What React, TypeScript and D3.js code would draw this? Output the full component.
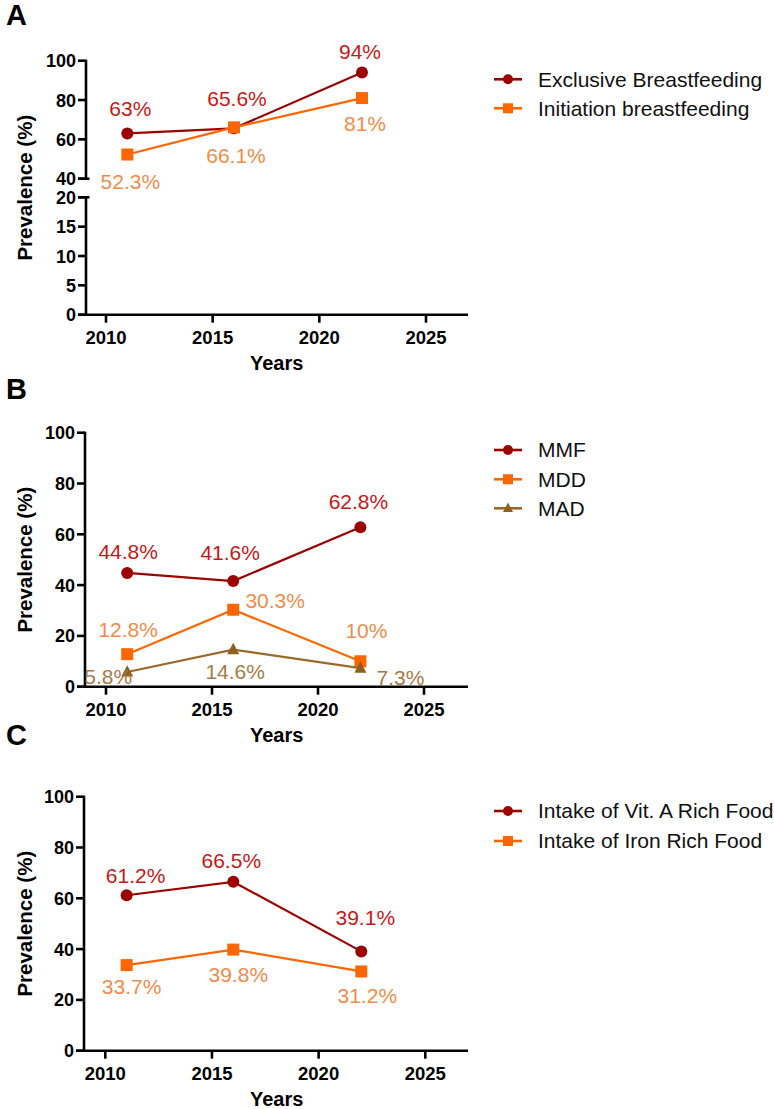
import React from "react";
import * as d3 from "d3";

// ---------- DATA ----------
const years = [2011, 2016, 2022];
const xTicks = [2010, 2015, 2020, 2025];

const exclusiveBF = [63, 65.6, 94];
const initiationBF = [52.3, 66.1, 81];

const mmf = [44.8, 41.6, 62.8];
const mdd = [12.8, 30.3, 10];
const mad = [5.8, 14.6, 7.3];

const vitA = [61.2, 66.5, 39.1];
const iron = [33.7, 39.8, 31.2];

const yTicksATop = [40, 60, 80, 100];
const yTicksABottom = [0, 5, 10, 15, 20];
const yTicksFull = [0, 20, 40, 60, 80, 100];

// ---------- STYLE ----------
const FONT = "'Liberation Sans', Arial, Helvetica, sans-serif";
const RED = "#9c0000";
const RED_LABEL = "#cc1616";
const ORANGE = "#ff6600";
const ORANGE_LABEL = "#f28b48";
const BROWN = "#9a6a2a";
const BROWN_MARK = "#8f5f1e";
const BROWN_LABEL = "#a87a45";

type Shape = "circle" | "square" | "triangle";

interface Series {
  name: string;
  values: number[];
  line: string;
  mark: string;
  label: string;
  shape: Shape;
  offsets: [number, number][]; // label centre offset from point
}

function Marker({ shape, x, y, color, size }: { shape: Shape; x: number; y: number; color: string; size: number }) {
  if (shape === "circle") return <circle cx={x} cy={y} r={size / 2} fill={color} />;
  if (shape === "square") return <rect x={x - size / 2} y={y - size / 2} width={size} height={size} fill={color} />;
  const h = size * 0.95;
  return (
    <polygon
      points={`${x},${y - h * 0.6} ${x - size / 2},${y + h * 0.4} ${x + size / 2},${y + h * 0.4}`}
      fill={color}
    />
  );
}

interface PanelProps {
  letter: string;
  letterY: number;
  axisX: number;
  x0: number; // pixel of 2010
  x1: number; // pixel of 2025
  axisY: number;
  yOf: (v: number) => number;
  yTop: number;
  broken?: { topEnd: number; bottomStart: number };
  yTickList: { v: number; y: number }[];
  series: Series[];
  legendY: number[];
}

function Panel(p: PanelProps) {
  const x = d3.scaleLinear().domain([2010, 2025]).range([p.x0, p.x1]);
  const xRightEnd = 468;
  const line = d3
    .line<[number, number]>()
    .x((d) => x(d[0]))
    .y((d) => p.yOf(d[1]));
  const axisW = 2.6;
  const tickLen = 8;
  const yCenter = (p.yTop + p.axisY) / 2;

  return (
    <g>
      <text x={6} y={p.letterY} fontFamily={FONT} fontWeight="bold" fontSize={29} fill="#000">
        {p.letter}
      </text>

      {/* y axis */}
      {p.broken ? (
        <g stroke="#000" strokeWidth={axisW}>
          <line x1={p.axisX} x2={p.axisX} y1={p.yTop - 1} y2={p.broken.topEnd} />
          <line x1={p.axisX - tickLen} x2={p.axisX + 3.5} y1={p.broken.topEnd} y2={p.broken.topEnd} />
          <line x1={p.axisX} x2={p.axisX} y1={p.broken.bottomStart} y2={p.axisY} />
          <line x1={p.axisX - tickLen} x2={p.axisX + 3.5} y1={p.broken.bottomStart} y2={p.broken.bottomStart} />
        </g>
      ) : (
        <line x1={p.axisX} x2={p.axisX} y1={p.yTop - 1} y2={p.axisY} stroke="#000" strokeWidth={axisW} />
      )}
      {p.yTickList.map((t) => (
        <g key={"yt" + t.v}>
          <line x1={p.axisX - tickLen} x2={p.axisX} y1={t.y} y2={t.y} stroke="#000" strokeWidth={axisW} />
          <text
            x={p.axisX - 10}
            y={t.y + 6.5}
            textAnchor="end"
            fontFamily={FONT}
            fontWeight="bold"
            fontSize={18}
            fill="#000"
          >
            {t.v}
          </text>
        </g>
      ))}

      {/* x axis */}
      <line x1={p.axisX - tickLen} x2={xRightEnd} y1={p.axisY} y2={p.axisY} stroke="#000" strokeWidth={axisW} />
      {xTicks.map((t) => (
        <g key={"xt" + t}>
          <line x1={x(t)} x2={x(t)} y1={p.axisY} y2={p.axisY + tickLen} stroke="#000" strokeWidth={axisW} />
          <text
            x={x(t)}
            y={p.axisY + 29}
            textAnchor="middle"
            fontFamily={FONT}
            fontWeight="bold"
            fontSize={18.5}
            fill="#000"
          >
            {t}
          </text>
        </g>
      ))}
      <text
        x={276.7}
        y={p.axisY + 55.5}
        textAnchor="middle"
        fontFamily={FONT}
        fontWeight="bold"
        fontSize={20}
        fill="#000"
      >
        Years
      </text>
      <text
        transform={`translate(32,${yCenter}) rotate(-90)`}
        textAnchor="middle"
        fontFamily={FONT}
        fontWeight="bold"
        fontSize={20.5}
        fill="#000"
      >
        Prevalence (%)
      </text>

      {/* series */}
      {p.series.map((s) => {
        const pts: [number, number][] = years.map((yr, i) => [yr, s.values[i]]);
        return (
          <g key={s.name}>
            <path d={line(pts) || ""} fill="none" stroke={s.line} strokeWidth={2.2} />
            {pts.map((d, i) => (
              <Marker key={i} shape={s.shape} x={x(d[0])} y={p.yOf(d[1])} color={s.mark} size={12} />
            ))}
          </g>
        );
      })}
      {p.series.map((s) => (
        <g key={s.name + "lab"}>
          {years.map((yr, i) => (
            <text
              key={i}
              x={x(yr) + s.offsets[i][0]}
              y={p.yOf(s.values[i]) + s.offsets[i][1] + 7.3}
              textAnchor="middle"
              fontFamily={FONT}
              fontSize={21}
              fill={s.label}
            >
              {s.values[i] + "%"}
            </text>
          ))}
        </g>
      ))}

      {/* legend */}
      {p.series.map((s, i) => (
        <g key={s.name + "leg"}>
          <line x1={494} x2={522} y1={p.legendY[i]} y2={p.legendY[i]} stroke={s.line} strokeWidth={2.6} />
          <Marker shape={s.shape} x={508} y={p.legendY[i]} color={s.mark} size={10} />
          <text x={538} y={p.legendY[i] + 7.3} fontFamily={FONT} fontSize={21} fill="#111">
            {s.name}
          </text>
        </g>
      ))}
    </g>
  );
}

export default function App() {
  // Panel A: broken y axis
  const yATop = d3.scaleLinear().domain([40, 100]).range([178.7, 60.7]);
  const yABottom = d3.scaleLinear().domain([0, 20]).range([314.7, 197.3]);
  const yA = (v: number) => (v >= 30 ? yATop(v) : yABottom(v));
  const yB = d3.scaleLinear().domain([0, 100]).range([686.7, 432.7]);
  const yC = d3.scaleLinear().domain([0, 100]).range([1050.7, 796.7]);

  const seriesA: Series[] = [
    {
      name: "Exclusive Breastfeeding",
      values: exclusiveBF,
      line: RED,
      mark: RED,
      label: RED_LABEL,
      shape: "circle",
      offsets: [[3, -25], [3, -30], [-2, -21]],
    },
    {
      name: "Initiation breastfeeding",
      values: initiationBF,
      line: ORANGE,
      mark: ORANGE,
      label: ORANGE_LABEL,
      shape: "square",
      offsets: [[3, 27], [2, 28], [3, 26]],
    },
  ];
  const seriesB: Series[] = [
    {
      name: "MMF",
      values: mmf,
      line: RED,
      mark: RED,
      label: RED_LABEL,
      shape: "circle",
      offsets: [[1, -21], [-3, -28], [-2, -25]],
    },
    {
      name: "MDD",
      values: mdd,
      line: ORANGE,
      mark: ORANGE,
      label: ORANGE_LABEL,
      shape: "square",
      offsets: [[1, -24], [42, -9], [6, -31]],
    },
    {
      name: "MAD",
      values: mad,
      line: BROWN,
      mark: BROWN_MARK,
      label: BROWN_LABEL,
      shape: "triangle",
      offsets: [[-19, 5], [2, 22], [40, 10]],
    },
  ];
  const seriesC: Series[] = [
    {
      name: "Intake of Vit. A Rich Food",
      values: vitA,
      line: RED,
      mark: RED,
      label: RED_LABEL,
      shape: "circle",
      offsets: [[9, -20], [-2, -21], [4, -34]],
    },
    {
      name: "Intake of Iron Rich Food",
      values: iron,
      line: ORANGE,
      mark: ORANGE,
      label: ORANGE_LABEL,
      shape: "square",
      offsets: [[5, 22], [5, 25], [6, 24]],
    },
  ];

  return (
    <svg
      width={774}
      height={1109}
      style={{ position: "absolute", left: 0, top: 0, background: "#fff" }}
    >
      <rect width={774} height={1109} fill="#fff" />
      <Panel
        letter="A"
        letterY={25}
        axisX={86}
        x0={106}
        x1={426}
        axisY={314.7}
        yOf={yA}
        yTop={60.7}
        broken={{ topEnd: 178.7, bottomStart: 197.3 }}
        yTickList={[
          ...yTicksATop.map((v) => ({ v, y: yATop(v) })),
          ...yTicksABottom.map((v) => ({ v, y: yABottom(v) })),
        ]}
        series={seriesA}
        legendY={[79.3, 108.3]}
      />
      <Panel
        letter="B"
        letterY={399}
        axisX={85}
        x0={106}
        x1={424}
        axisY={686.7}
        yOf={yB}
        yTop={432.7}
        yTickList={yTicksFull.map((v) => ({ v, y: yB(v) }))}
        series={seriesB}
        legendY={[450, 479.3, 508.3]}
      />
      <Panel
        letter="C"
        letterY={745}
        axisX={84}
        x0={105.3}
        x1={425.3}
        axisY={1050.7}
        yOf={yC}
        yTop={796.7}
        yTickList={yTicksFull.map((v) => ({ v, y: yC(v) }))}
        series={seriesC}
        legendY={[811, 841]}
      />
    </svg>
  );
}
